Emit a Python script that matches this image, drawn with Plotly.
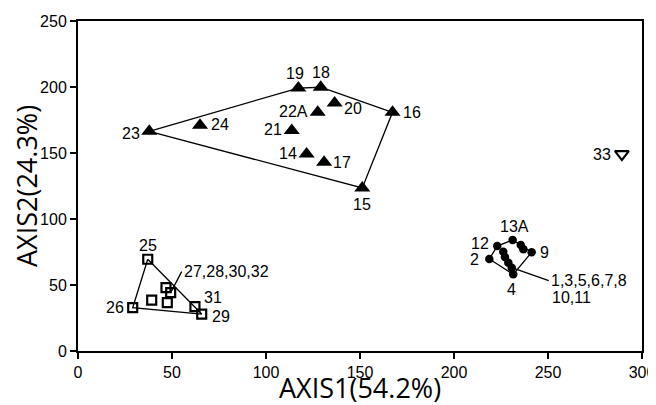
import plotly.graph_objects as go

# ---- data ----
tri_lab = ["19", "18", "20", "16", "22A", "24", "23", "21", "14", "17", "15"]
tri_x = [117.2, 129.1, 136.5, 167.3, 127.5, 64.9, 37.9, 113.7, 121.6, 130.9, 151.2]
tri_y = [199.2, 199.8, 187.9, 180.8, 180.8, 171.0, 166.4, 167.0, 149.2, 142.9, 123.5]
tri_hull = [6, 0, 1, 3, 10, 6]

sq_lab = ["25", "26", "29", "31", "", "", "", ""]
sq_x = [37.1, 29.1, 65.8, 62.2, 46.8, 49.3, 39.2, 47.5]
sq_y = [69.5, 32.8, 28.0, 33.6, 48.0, 44.2, 38.6, 36.6]
sq_hull = [0, 1, 2, 0]

circ_lab = ["2", "12", "13A", "", "", "9", "", "", "", "", "4"]
circ_x = [218.8, 223.0, 231.2, 235.5, 236.9, 241.3, 226.2, 227.1, 228.9, 230.7, 231.5]
circ_y = [69.7, 79.5, 84.1, 80.3, 77.0, 74.8, 75.2, 71.2, 66.9, 63.1, 58.1]
circ_hull = [0, 1, 2, 5, 10, 0]

out_lab = ["33"]
out_x = [289.3]
out_y = [149.2]

x_title = "AXIS1(54.2%)"
y_title = "AXIS2(24.3%)"
x_ticks = [0, 50, 100, 150, 200, 250, 300]
y_ticks = [0, 50, 100, 150, 200, 250]

# label placement: (xanchor, xshift, yshift)
place = {
    "19": ("center", -3, 15), "18": ("center", 0, 15), "20": ("left", 7, -6),
    "16": ("left", 8, 0), "22A": ("right", -8, 1), "24": ("left", 9, 1),
    "23": ("right", -7, -2), "21": ("right", -8, 1), "14": ("right", -8, 1),
    "17": ("left", 7, 0), "15": ("center", 0, -17),
    "25": ("center", 0, 14), "26": ("right", -7, 0), "31": ("left", 7, 9),
    "29": ("left", 8, -2),
    "2": ("right", -8, 0), "12": ("right", -6, 3), "13A": ("center", 2, 13),
    "9": ("left", 6, 0), "4": ("center", -2, -15),
    "33": ("right", -9, 0),
}

black = "#000000"
fig = go.Figure()

def hull_trace(xs, ys, idx):
    return go.Scatter(x=[xs[i] for i in idx], y=[ys[i] for i in idx], mode="lines",
                      line=dict(color=black, width=1.3), hoverinfo="skip", showlegend=False)

fig.add_trace(hull_trace(tri_x, tri_y, tri_hull))
fig.add_trace(hull_trace(sq_x, sq_y, sq_hull))
fig.add_trace(hull_trace(circ_x, circ_y, circ_hull))

fig.add_trace(go.Scatter(x=tri_x, y=tri_y, mode="markers", showlegend=False,
                         marker=dict(symbol="triangle-up", size=14, color=black)))
fig.add_trace(go.Scatter(x=sq_x, y=sq_y, mode="markers", showlegend=False,
                         marker=dict(symbol="square-open", size=9, color=black,
                                     line=dict(width=2.2, color=black))))
fig.add_trace(go.Scatter(x=circ_x, y=circ_y, mode="markers", showlegend=False,
                         marker=dict(symbol="circle", size=8.5, color=black)))
fig.add_trace(go.Scatter(x=out_x, y=out_y, mode="markers", showlegend=False,
                         marker=dict(symbol="triangle-down-open", size=12, color=black,
                                     line=dict(width=2.2, color=black))))

lab_font = dict(family="Liberation Sans, Arial, sans-serif", size=16, color=black)
annotations = []
for labs, xs, ys in [(tri_lab, tri_x, tri_y), (sq_lab, sq_x, sq_y),
                     (circ_lab, circ_x, circ_y), (out_lab, out_x, out_y)]:
    for t, x, y in zip(labs, xs, ys):
        if not t:
            continue
        xa, dx, dy = place[t]
        annotations.append(dict(x=x, y=y, xref="x", yref="y", text=t, showarrow=False,
                                xanchor=xa, yanchor="middle", xshift=dx, yshift=dy,
                                font=lab_font))

# leader-line labels
annotations.append(dict(x=sq_x[5], y=sq_y[5], xref="x", yref="y", text="27,28,30,32",
                        showarrow=True, arrowhead=0, arrowwidth=1.3, arrowcolor=black,
                        ax=11, ay=-21, xanchor="left", yanchor="middle", standoff=0,
                        font=lab_font))
annotations.append(dict(x=circ_x[9], y=circ_y[9], xref="x", yref="y", text="1,3,5,6,7,8",
                        showarrow=True, arrowhead=0, arrowwidth=1.3, arrowcolor=black,
                        ax=37, ay=13, xanchor="left", yanchor="middle", standoff=0,
                        font=lab_font))
annotations.append(dict(x=circ_x[9], y=circ_y[9], xref="x", yref="y", text="10,11",
                        showarrow=False, xanchor="left", yanchor="middle",
                        xshift=38, yshift=-30, font=lab_font))

title_font = dict(family="Open Sans, sans-serif", size=27, color=black)
annotations.append(dict(x=0.5, y=0, xref="paper", yref="paper", text=x_title,
                        showarrow=False, xanchor="center", yanchor="middle",
                        yshift=-36, font=title_font))
annotations.append(dict(x=0, y=0.5, xref="paper", yref="paper", text=y_title,
                        showarrow=False, xanchor="center", yanchor="middle",
                        xshift=-52, textangle=-90, font=title_font))

axis_common = dict(showgrid=False, zeroline=False, showline=True, linecolor=black,
                   linewidth=2, mirror=True, ticks="outside", ticklen=6, tickwidth=2,
                   tickcolor=black, automargin=False,
                   tickfont=dict(family="Liberation Sans, Arial, sans-serif", size=16,
                                 color=black))

# the page body adds an 8px offset; size the figure so the plot box lands where the
# reference has it
fig.update_layout(
    width=656, height=397,
    margin=dict(l=70, r=22, t=13, b=54, autoexpand=False),
    paper_bgcolor="white", plot_bgcolor="white",
    xaxis=dict(range=[0, 300], tickvals=x_ticks, **axis_common),
    yaxis=dict(range=[0, 250], tickvals=y_ticks, **axis_common),
    annotations=annotations,
    showlegend=False,
)

fig.write_html("out.html")
